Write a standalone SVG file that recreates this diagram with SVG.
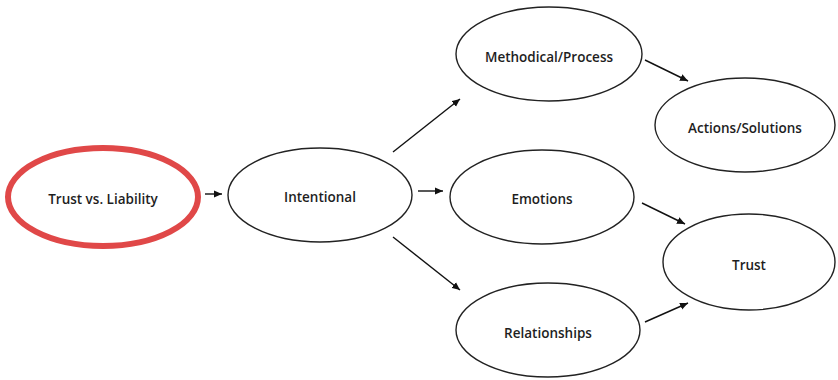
<svg xmlns="http://www.w3.org/2000/svg" width="838" height="380" viewBox="0 0 838 380">
<defs>
<marker id="ah" viewBox="0 0 10 10" refX="10" refY="5" markerWidth="8" markerHeight="8" markerUnits="userSpaceOnUse" orient="auto">
<path d="M0,0.5 L10,5 L0,9.5 Z" fill="#111"/>
</marker>
</defs>
<style>
.n{fill:#fff;stroke:#222;stroke-width:1.4}
.r{fill:#fff;stroke:#e04848;stroke-width:6}
.t{font-family:"Open Sans","Liberation Sans",sans-serif;font-size:13.5px;fill:#1e1e1e;text-anchor:middle;dominant-baseline:central;font-weight:600}
.c{stroke:#111;stroke-width:1.4;fill:none;marker-end:url(#ah)}
</style>
<rect width="838" height="380" fill="#fff"/>
<g id="trust-vs-liability"><ellipse class="r" cx="103" cy="197" rx="95" ry="49"/><text class="t" x="103" y="199">Trust vs. Liability</text></g>
<g id="intentional"><ellipse class="n" cx="320" cy="195" rx="92" ry="47"/><text class="t" x="320" y="197">Intentional</text></g>
<g id="methodical"><ellipse class="n" cx="549" cy="54" rx="93" ry="47"/><text class="t" x="549" y="57">Methodical/Process</text></g>
<g id="emotions"><ellipse class="n" cx="542" cy="197" rx="92" ry="47"/><text class="t" x="542" y="199">Emotions</text></g>
<g id="relationships"><ellipse class="n" cx="548" cy="330" rx="92" ry="47"/><text class="t" x="548" y="333">Relationships</text></g>
<g id="actions"><ellipse class="n" cx="745" cy="125" rx="90" ry="47"/><text class="t" x="745" y="128">Actions/Solutions</text></g>
<g id="trust"><ellipse class="n" cx="749" cy="262" rx="86" ry="48"/><text class="t" x="749" y="265">Trust</text></g>
<g id="connectors">
<line class="c" x1="205" y1="194" x2="222" y2="194"/>
<line class="c" x1="393" y1="152" x2="460" y2="99"/>
<line class="c" x1="418" y1="191" x2="443" y2="191"/>
<line class="c" x1="393" y1="237" x2="460" y2="290"/>
<line class="c" x1="645" y1="60" x2="688" y2="81"/>
<line class="c" x1="642" y1="203" x2="685" y2="224"/>
<line class="c" x1="645" y1="322" x2="688" y2="303"/>
</g>
</svg>
